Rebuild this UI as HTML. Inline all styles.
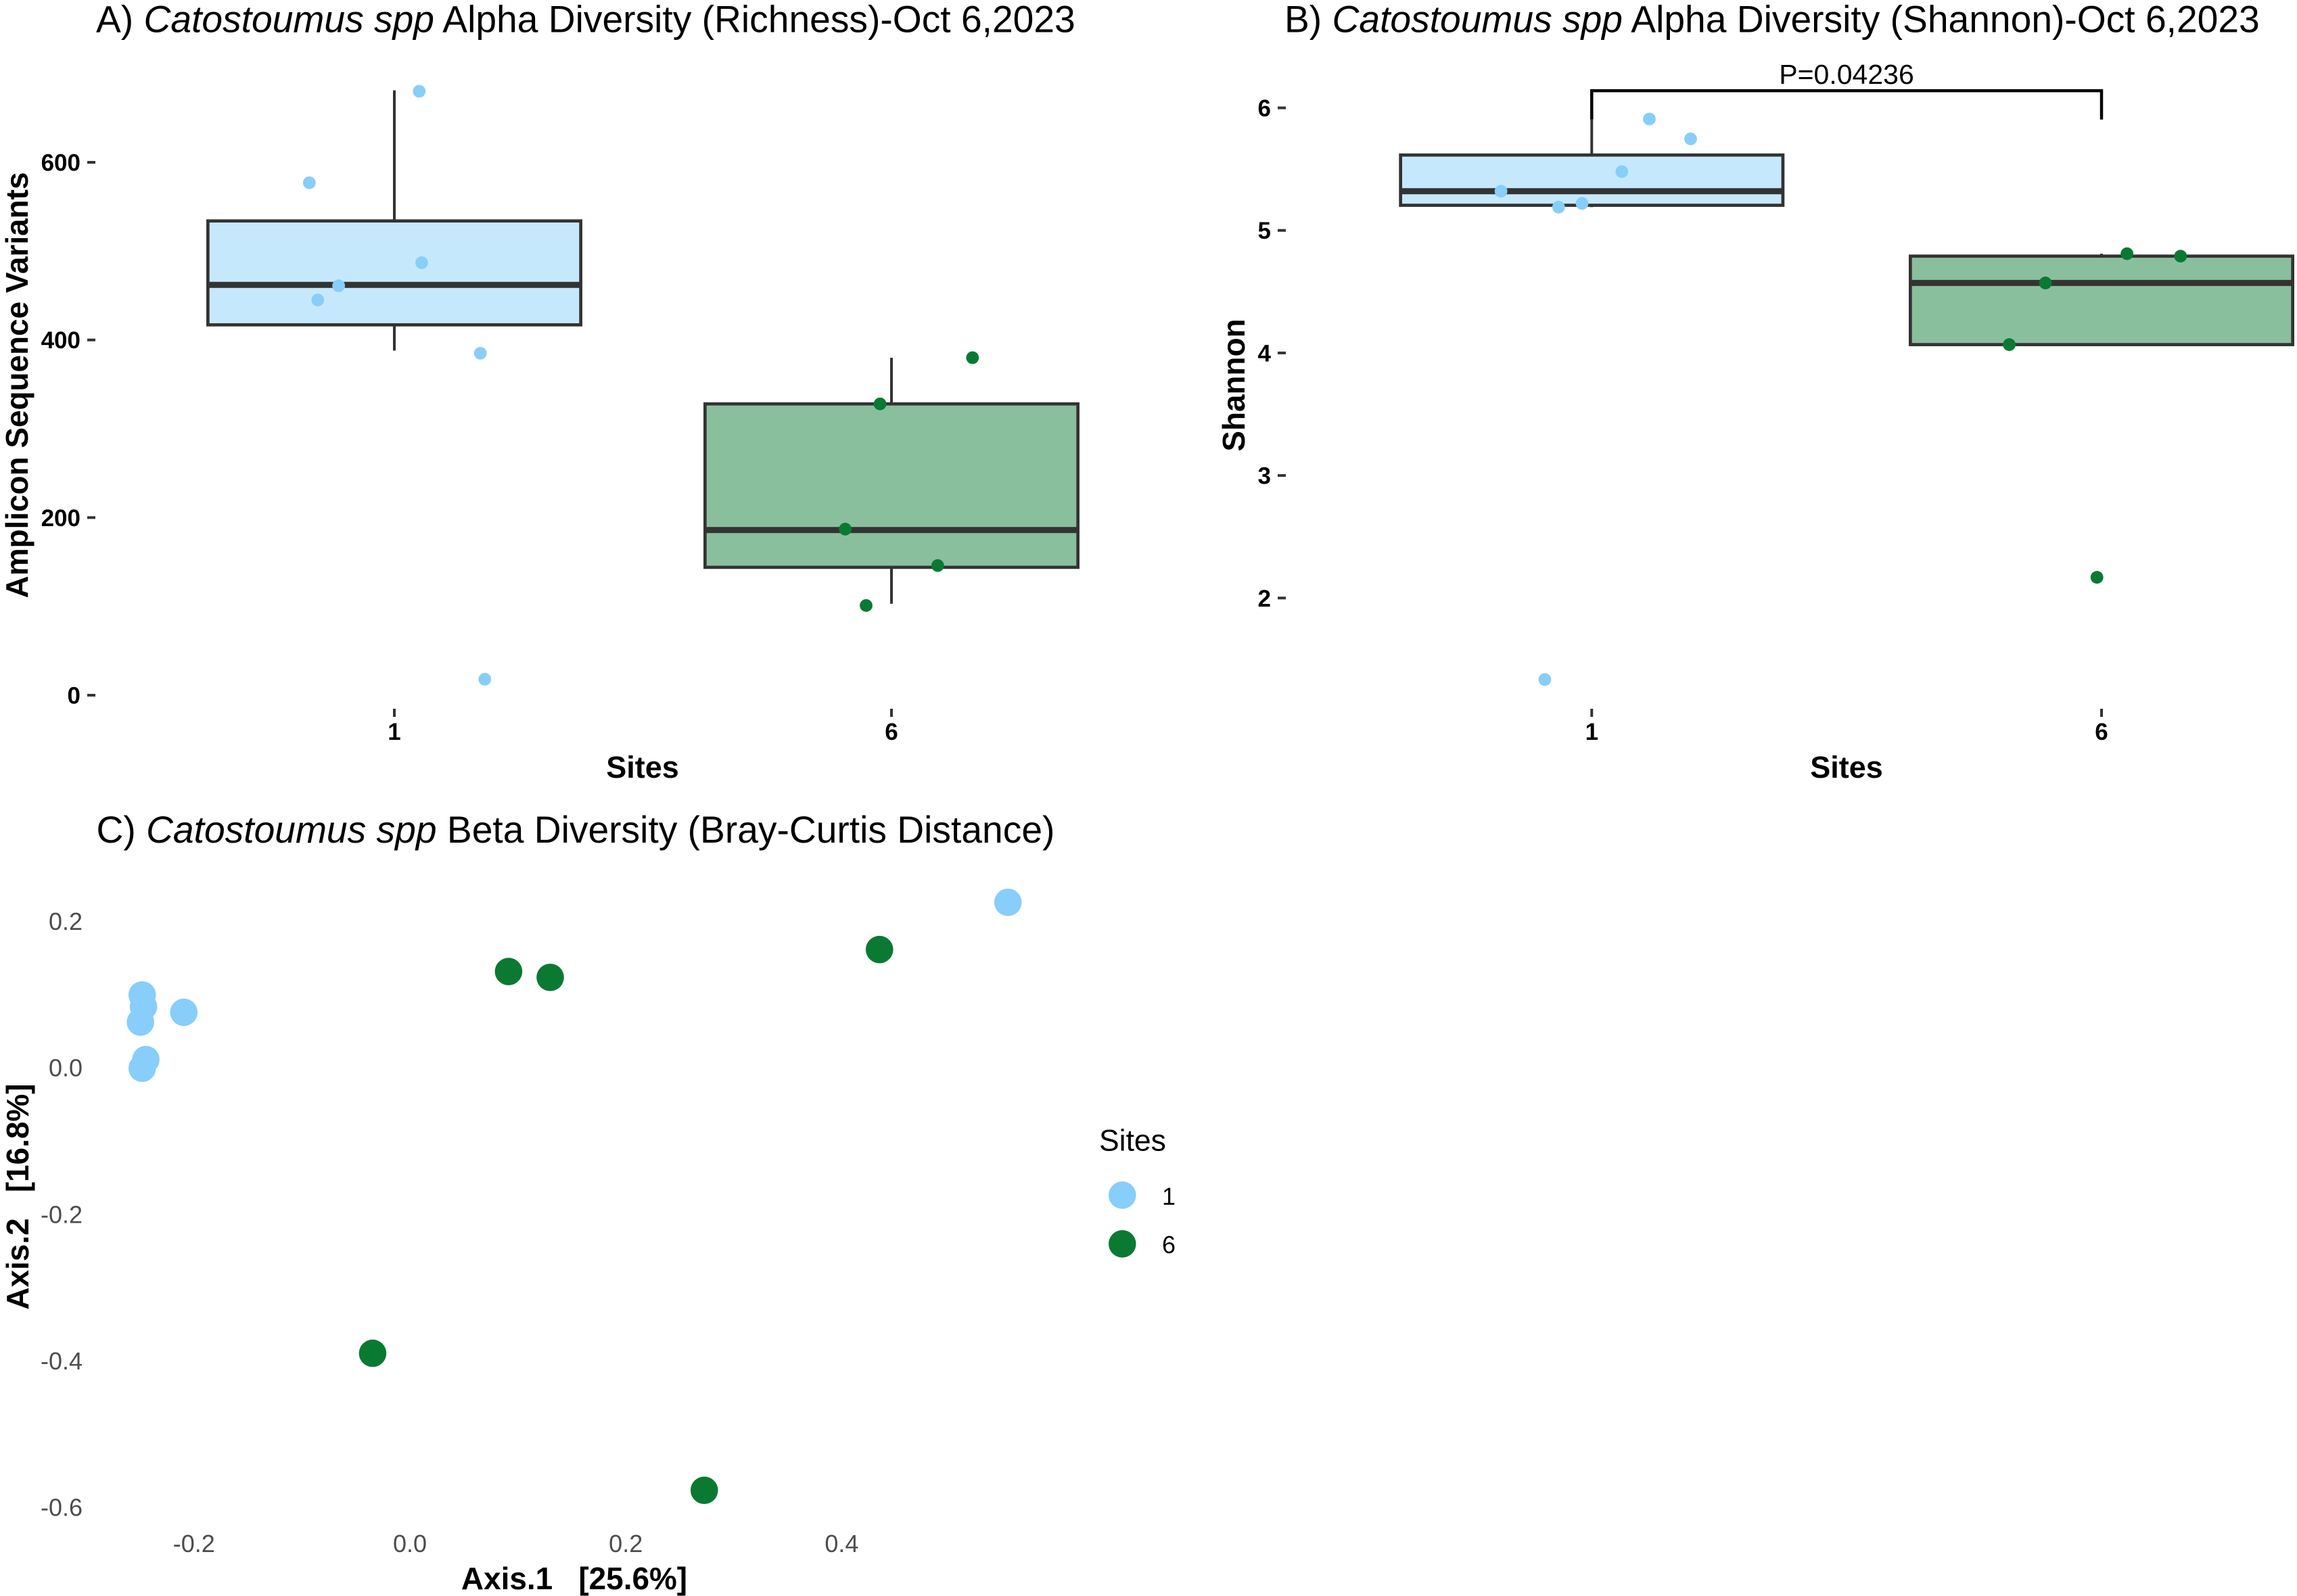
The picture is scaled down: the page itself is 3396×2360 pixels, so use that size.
<!DOCTYPE html>
<html lang="en">
<head>
<meta charset="utf-8">
<title>Catostoumus spp diversity panels</title>
<style>
html,body{margin:0;padding:0;background:#fff;width:3396px;height:2360px;overflow:hidden}
svg{display:block}
text{font-family:"Liberation Sans",Arial,sans-serif;white-space:pre}
.title{font-size:55.2px;fill:#000}
.axis-title{font-size:45px;font-weight:bold;fill:#000}
.axis-title-long{font-size:45.9px;font-weight:bold;fill:#000}
.tick-bold{font-size:35px;font-weight:bold;fill:#000}
.tick-grey{font-size:36px;fill:#4d4d4d}
</style>
</head>
<body>
<svg id="figure" xmlns="http://www.w3.org/2000/svg" width="3396" height="2360" viewBox="0 0 3396 2360">
  <rect x="0" y="0" width="3396" height="2360" fill="#ffffff"/>

  <g id="panel-a">
    <text class="title" x="142" y="47.5">A) <tspan font-style="italic">Catostoumus spp</tspan> Alpha Diversity (Richness)-Oct 6,2023</text>
    <text class="axis-title-long" text-anchor="middle" transform="translate(41 569.5) rotate(-90)">Amplicon Sequence Variants</text>
    <text class="axis-title" text-anchor="middle" x="950" y="1150">Sites</text>
  </g>

  <g id="panel-b">
    <text class="title" x="1899" y="47.5">B) <tspan font-style="italic">Catostoumus spp</tspan> Alpha Diversity (Shannon)-Oct 6,2023</text>
    <text class="axis-title-long" text-anchor="middle" transform="translate(1840 569.5) rotate(-90)">Shannon</text>
    <text class="axis-title" text-anchor="middle" x="2730" y="1150">Sites</text>
    <text text-anchor="middle" x="2730" y="124" font-size="41" fill="#000">P=0.04236</text>
  </g>

  <g id="panel-c">
    <text class="title" x="142.5" y="1246">C) <tspan font-style="italic">Catostoumus spp</tspan> Beta Diversity (Bray-Curtis Distance)</text>
    <text class="axis-title-long" text-anchor="middle" transform="translate(42 1769.5) rotate(-90)">Axis.2   [16.8%]</text>
    <text class="axis-title-long" text-anchor="middle" x="849" y="2350">Axis.1   [25.6%]</text>
  </g>

  <g id="legend">
    <text x="1625" y="1701.5" font-size="44.5" fill="#000">Sites</text>
  </g>
</svg>

<script>
// Shared categories and colours
const siteLabels = ['1', '6'];
const siteColors = ['#87cefa', '#0a7a32'];

// Panel A: richness points per site, with horizontal jitter in category units
const richnessSite1 = [680, 577, 487, 461, 445, 385, 18];
const richnessJitter1 = [0.050, -0.171, 0.055, -0.112, -0.154, 0.173, 0.182];
const richnessSite6 = [380, 328, 187, 146, 101];
const richnessJitter6 = [0.163, -0.023, -0.093, 0.093, -0.051];
const richnessTicks = [0, 200, 400, 600];
// Panel A box statistics, in this order: lower whisker, q1, median, q3, upper whisker
const richnessBox1 = [388, 417, 462, 534, 681];
const richnessBox6 = [103, 144, 186, 328, 380];

// Panel B: Shannon points per site, with horizontal jitter in category units
const shannonSite1 = [5.909, 5.747, 5.48, 5.32, 5.22, 5.19, 1.335];
const shannonJitter1 = [0.113, 0.194, 0.059, -0.178, -0.019, -0.065, -0.092];
const shannonSite6 = [4.81, 4.79, 4.571, 4.068, 2.169];
const shannonJitter6 = [0.050, 0.155, -0.110, -0.181, -0.009];
const shannonTicks = [2, 3, 4, 5, 6];
// Panel B box statistics, in this order: lower whisker, q1, median, q3, upper whisker
const shannonBox1 = [5.19, 5.205, 5.32, 5.615, 5.905];
const shannonBox6 = [4.068, 4.068, 4.571, 4.79, 4.81];
const bracketLevel = 6.14;
const bracketTip = 5.905;

// Panel C: ordination coordinates per site
const axis1Site1 = [0.554, -0.248, -0.2468, -0.2496, -0.2094, -0.2446, -0.248];
const axis2Site1 = [0.2264, 0.100, 0.084, 0.063, 0.0764, 0.0118, 0.0];
const axis1Site6 = [0.0914, 0.130, 0.435, -0.0345, 0.2727];
const axis2Site6 = [0.132, 0.124, 0.162, -0.389, -0.576];
const axis1Ticks = ['-0.2', '0.0', '0.2', '0.4'];
const axis2Ticks = ['0.2', '0.0', '-0.2', '-0.4', '-0.6'];

const SVGNS = 'http://www.w3.org/2000/svg';
function make(parent, tag, attrs, text) {
  const el = document.createElementNS(SVGNS, tag);
  for (const k in attrs) el.setAttribute(k, attrs[k]);
  if (text !== undefined) el.textContent = text;
  parent.appendChild(el);
  return el;
}

// Axis functions
const xCatA = c => 583 + c * 735;
const yRich = v => 1028 - v * 1.3133;
const xCatB = c => 2353.3 + c * 753.7;
const yShan = v => 159.5 + (6 - v) * 181.2;
const xOrd = v => 606 + v * 1596;
const yOrd = v => 1579.6 - v * 1083.5;

function drawBox(g, stats, cat, xScale, yScale, color, prefix) {
  const lo = stats[0], q1 = stats[1], med = stats[2], q3 = stats[3], hi = stats[4];
  const cx = xScale(cat);
  const x0 = xScale(cat - 0.375);
  const x1 = xScale(cat + 0.375);
  const upper = make(g, 'line', { x1: cx, x2: cx, y1: yScale(hi), y2: yScale(q3), stroke: '#333333', 'stroke-width': 4 });
  
  
  const lower = make(g, 'line', { x1: cx, x2: cx, y1: yScale(q1), y2: yScale(lo), stroke: '#333333', 'stroke-width': 4 });
  
  
  const box = make(g, 'rect', { x: x0, y: yScale(q3), width: x1 - x0, height: yScale(q1) - yScale(q3), fill: color, 'fill-opacity': 0.48, stroke: '#333333', 'stroke-width': 4.7 });
  
  
  const median = make(g, 'line', { x1: x0, x2: x1, y1: yScale(med), y2: yScale(med), stroke: '#333333', 'stroke-width': 9 });
  
  
}

function drawJitter(g, values, jitter, cat, xScale, yScale, color, prefix) {
  values.forEach((v, i) => {
    const dot = make(g, 'circle', { cx: xScale(cat + jitter[i]), cy: yScale(v), r: 9.4, fill: color });
    
    
  });
}

function drawYTicks(g, ticks, yScale, tickX, prefix) {
  ticks.forEach(t => {
    const y = yScale(t);
    const mark = make(g, 'line', { x1: tickX, x2: tickX + 12, y1: y, y2: y, stroke: '#333333', 'stroke-width': 4 });
    
    
    const label = make(g, 'text', { class: 'tick-bold', 'text-anchor': 'end', x: tickX - 10, y: y + 12.5 }, String(t));
    
    
  });
}

function drawXTicks(g, xScale, prefix) {
  siteLabels.forEach((s, i) => {
    const x = xScale(i);
    const mark = make(g, 'line', { x1: x, x2: x, y1: 1048, y2: 1060, stroke: '#333333', 'stroke-width': 4 });
    
    
    const label = make(g, 'text', { class: 'tick-bold', 'text-anchor': 'middle', x: x, y: 1094 }, s);
    
    
  });
}

// Panel A
const panelA = document.getElementById('panel-a');
drawYTicks(panelA, richnessTicks, yRich, 129, 'panel-a');
drawXTicks(panelA, xCatA, 'panel-a');
drawBox(panelA, richnessBox1, 0, xCatA, yRich, siteColors[0], 'panel-a-site-1');
drawBox(panelA, richnessBox6, 1, xCatA, yRich, siteColors[1], 'panel-a-site-6');
drawJitter(panelA, richnessSite1, richnessJitter1, 0, xCatA, yRich, siteColors[0], 'panel-a-site-1');
drawJitter(panelA, richnessSite6, richnessJitter6, 1, xCatA, yRich, siteColors[1], 'panel-a-site-6');

// Panel B
const panelB = document.getElementById('panel-b');
drawYTicks(panelB, shannonTicks, yShan, 1889, 'panel-b');
drawXTicks(panelB, xCatB, 'panel-b');
drawBox(panelB, shannonBox1, 0, xCatB, yShan, siteColors[0], 'panel-b-site-1');
drawBox(panelB, shannonBox6, 1, xCatB, yShan, siteColors[1], 'panel-b-site-6');
drawJitter(panelB, shannonSite1, shannonJitter1, 0, xCatB, yShan, siteColors[0], 'panel-b-site-1');
drawJitter(panelB, shannonSite6, shannonJitter6, 1, xCatB, yShan, siteColors[1], 'panel-b-site-6');
const bracketPath = 'M' + xCatB(0) + ' ' + yShan(bracketTip) + 'V' + yShan(bracketLevel) + 'H' + xCatB(1) + 'V' + yShan(bracketTip);
const bracket = make(panelB, 'path', { d: bracketPath, fill: 'none', stroke: '#000000', 'stroke-width': 4.5 });



// Panel C
const panelC = document.getElementById('panel-c');
axis1Ticks.forEach(t => {
  const label = make(panelC, 'text', { class: 'tick-grey', 'text-anchor': 'middle', x: xOrd(parseFloat(t)), y: 2295 }, t);
  
  
});
axis2Ticks.forEach(t => {
  const label = make(panelC, 'text', { class: 'tick-grey', 'text-anchor': 'end', x: 122, y: yOrd(parseFloat(t)) + 12 }, t);
  
  
});
function drawOrdination(xs, ys, color, prefix) {
  xs.forEach((x, i) => {
    const dot = make(panelC, 'circle', { cx: xOrd(x), cy: yOrd(ys[i]), r: 20.3, fill: color });
    
    
  });
}
drawOrdination(axis1Site1, axis2Site1, siteColors[0], 'panel-c-site-1');
drawOrdination(axis1Site6, axis2Site6, siteColors[1], 'panel-c-site-6');

// Legend
const legend = document.getElementById('legend');
siteLabels.forEach((s, i) => {
  const swatch = make(legend, 'circle', { cx: 1659.3, cy: 1767.3 + i * 72, r: 20.3, fill: siteColors[i] });
  
  
  const label = make(legend, 'text', { x: 1718, y: 1781.5 + i * 71.5, 'font-size': 36, fill: '#000' }, s);
  
  
});
</script>
</body>
</html>
